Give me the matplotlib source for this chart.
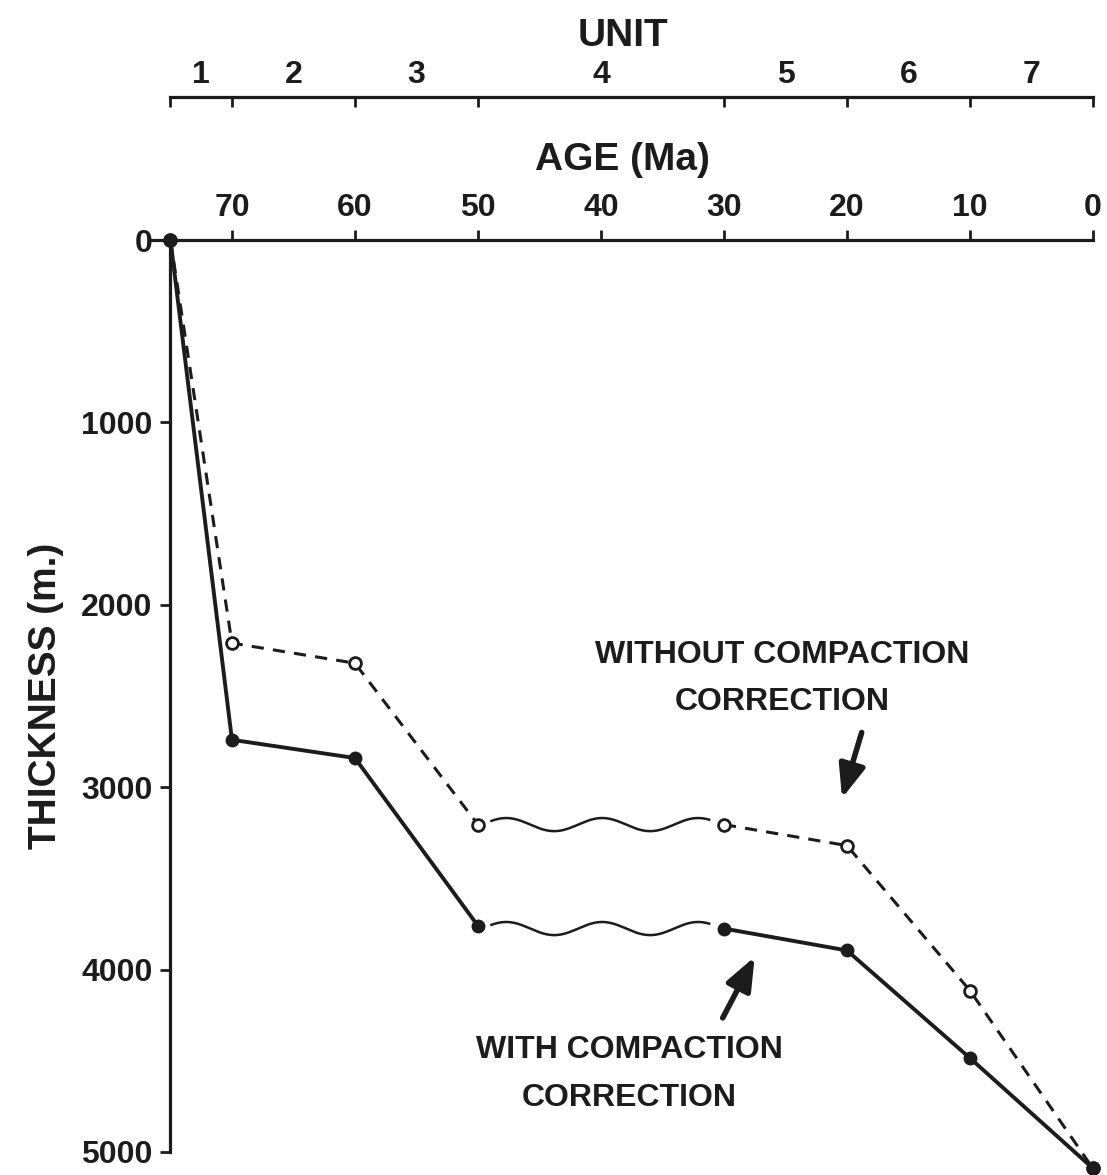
#!/usr/bin/env python3
"""
Thickness vs age, with and without compaction correction.
Recreated as a static figure -> out.png
"""

import numpy as np
import matplotlib.pyplot as plt

# === Data ===
AGES = [75, 70, 60, 50, 30, 20, 10, 0]                          # Ma
WITH_CORR = [0, 2740, 2840, 3760, 3775, 3895, 4485, 5090]        # m
WITHOUT_CORR = [0, 2210, 2320, 3205, 3205, 3320, 4115, 5090]     # m

UNIT_BOUNDS = [75, 70, 60, 50, 30, 20, 10, 0]
UNIT_LABELS = ["1", "2", "3", "4", "5", "6", "7"]

AGE_TICKS = [70, 60, 50, 40, 30, 20, 10, 0]
THICK_TICKS = [0, 1000, 2000, 3000, 4000, 5000]

# unconformity (wavy) symbol between 50 and 30 Ma
WAVE_START, WAVE_END = 48.9, 31.2
WAVE_PERIOD = 7.8
WAVE_PEAK = 47.7
WAVE_AMP = 36
# ====================

INK = "#1c1c1c"
plt.rcParams["font.family"] = ["Liberation Sans", "DejaVu Sans"]
plt.rcParams["font.weight"] = "bold"
plt.rcParams["axes.labelweight"] = "bold"


def wave(center):
    x = np.linspace(WAVE_START, WAVE_END, 200)
    y = center - WAVE_AMP * np.cos(2 * np.pi * (x - WAVE_PEAK) / WAVE_PERIOD)
    return x, y


def main():
    fig = plt.figure(figsize=(11.07, 11.75), dpi=100)
    ax = fig.add_axes([0.1373, 0.0196, 0.8500, 0.7761])

    ax.set_xlim(76.5, 0)
    ax.set_ylim(5000, 0)

    # --- spines ---
    for s in ["right", "bottom"]:
        ax.spines[s].set_visible(False)
    ax.spines["left"].set_position(("data", 75))
    for s in ["left", "top"]:
        ax.spines[s].set_linewidth(2.3)
        ax.spines[s].set_color(INK)

    ax.xaxis.tick_top()
    ax.set_xticks(AGE_TICKS)
    ax.set_yticks(THICK_TICKS)
    ax.tick_params(axis="both", direction="out", length=7, width=2.0,
                   color=INK, labelcolor=INK, labelsize=23)
    ax.tick_params(axis="x", pad=5)
    ax.tick_params(axis="y", pad=6)

    ax.xaxis.set_label_position("top")
    ax.set_xlabel("AGE (Ma)", fontsize=28, color=INK, labelpad=17)
    ax.set_ylabel("THICKNESS (m.)", fontsize=28, color=INK, labelpad=12)

    # --- unit axis ---
    sec = ax.secondary_xaxis(1.157)
    sec.spines["top"].set_bounds(UNIT_BOUNDS[0], UNIT_BOUNDS[-1])
    sec.spines["top"].set_linewidth(2.3)
    sec.spines["top"].set_color(INK)
    sec.set_xticks(UNIT_BOUNDS)
    sec.set_xticklabels([])
    centers = [(a + b) / 2 for a, b in zip(UNIT_BOUNDS[:-1], UNIT_BOUNDS[1:])]
    sec.set_xticks(centers, minor=True)
    sec.set_xticklabels(UNIT_LABELS, minor=True)
    sec.tick_params(which="major", direction="in", length=7, width=2.0, color=INK)
    sec.tick_params(which="minor", length=0, pad=5, labelsize=23, labelcolor=INK)
    sec.set_xlabel("UNIT", fontsize=28, color=INK, labelpad=10)

    # --- curves (split at the unconformity) ---
    i = AGES.index(50)
    j = AGES.index(30)
    for sl in (slice(0, i + 1), slice(j, None)):
        ax.plot(AGES[sl], WITHOUT_CORR[sl], color=INK, lw=2.2,
                linestyle=(0, (4, 3)), marker="o", ms=8.5, mfc="white",
                mec=INK, mew=2.0, clip_on=False, zorder=3)
        ax.plot(AGES[sl], WITH_CORR[sl], color=INK, lw=2.8,
                marker="o", ms=9, mfc=INK, mec=INK, clip_on=False, zorder=4)

    for c in (WITHOUT_CORR[j], WITH_CORR[j]):
        wx, wy = wave(c)
        ax.plot(wx, wy, color=INK, lw=1.8)

    # --- annotations ---
    arrow = dict(arrowstyle="-|>,head_length=1.0,head_width=0.4",
                 lw=4.0, color=INK, mutation_scale=20, shrinkA=0, shrinkB=0)
    ax.annotate("", xy=(20.4, 3060), xytext=(18.8, 2700), arrowprops=arrow)
    ax.annotate("", xy=(27.5, 3930), xytext=(30.1, 4265), arrowprops=arrow)

    ax.text(25.3, 2404, "WITHOUT COMPACTION\nCORRECTION", ha="center",
            va="center", fontsize=23, fontweight="bold", color=INK,
            linespacing=1.75, multialignment="center")
    ax.text(37.7, 4572, "WITH COMPACTION\nCORRECTION", ha="center",
            va="center", fontsize=23, fontweight="bold", color=INK,
            linespacing=1.75, multialignment="center")

    fig.savefig("out.png", dpi=100)


if __name__ == "__main__":
    main()
